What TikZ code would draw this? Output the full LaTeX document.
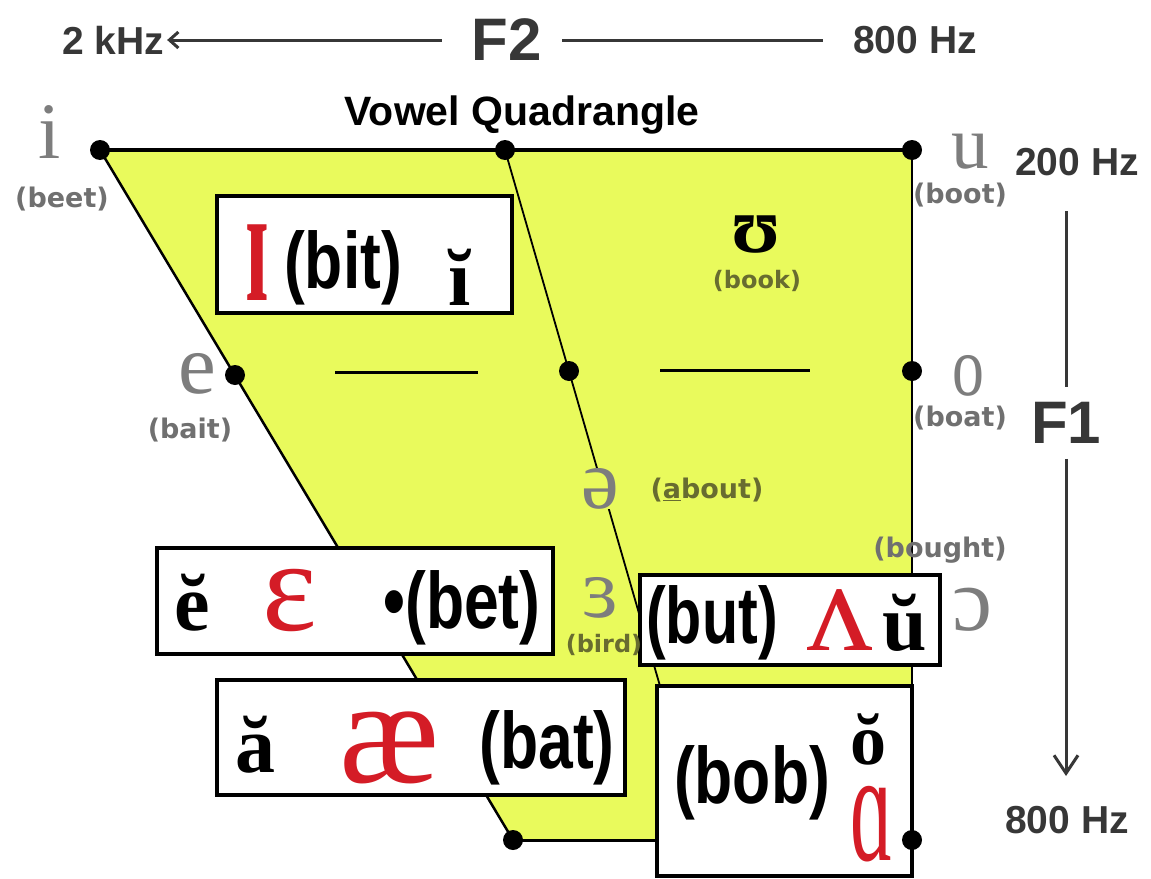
\documentclass[tikz,border=0pt]{standalone}
\usepackage{fontspec}
\setmainfont{Liberation Serif}
\newfontfamily\lsans{Liberation Sans}
\newfontfamily\dsans{DejaVu Sans}
\usetikzlibrary{arrows.meta}
\definecolor{quadyellow}{RGB}{233,250,92}
\definecolor{axisgrey}{RGB}{55,55,55}
\definecolor{lblgrey}{RGB}{112,112,112}
\definecolor{lblolive}{RGB}{104,108,48}
\definecolor{ipared}{RGB}{212,28,38}
\definecolor{ipagrey}{RGB}{125,125,125}
\newcommand\fsz[1]{\fontsize{#1}{#1}\selectfont}
\newcommand\cnd[1]{\scalebox{0.78}[1]{#1}}
\begin{document}
\begin{tikzpicture}[x=1pt,y=-1pt,
  dotn/.style={circle,fill=black,inner sep=0pt,minimum size=20pt},
  wbox/.style={draw=black,fill=white,line width=3.5pt,inner sep=0pt},
  axlbl/.style={font=\lsans\bfseries\fsz{39},text=axisgrey,inner sep=0pt},
  bigf/.style={font=\lsans\bfseries\fsz{60},text=axisgrey,inner sep=0pt},
  glbl/.style={font=\dsans\bfseries\fsz{27},text=lblgrey,inner sep=0pt},
  olbl/.style={glbl,text=lblolive},
  ipag/.style={font=\fsz{80},text=ipagrey,inner sep=0pt,anchor=base},
  bsans/.style={font=\lsans\bfseries\fsz{80},inner sep=0pt,anchor=base},
  brv/.style={font=\bfseries\fsz{80},inner sep=0pt,anchor=base},
  redipa/.style={font=\fsz{130},text=ipared,inner sep=0pt,anchor=base},
  axline/.style={draw=axisgrey,line width=3pt}
]
\fill[white] (0,0) rectangle (1151,878);
\useasboundingbox (0,0) rectangle (1151,878);

% quadrangle corner / point coordinates
\coordinate (ci) at (100,150);
\coordinate (cm) at (505,150);
\coordinate (cu) at (912,150);
\coordinate (ce) at (235,375);
\coordinate (cmid) at (569,371);
\coordinate (co) at (912,371);
\coordinate (cbl) at (513,840);
\coordinate (cbr) at (912,840);
\coordinate (cmb) at (660,686);

\fill[quadyellow] (ci) -- (cu) -- (cbr) -- (cbl) -- cycle;
\draw[line width=4pt] (ci) -- (cu);
\draw[line width=2.5pt] (cu) -- (cbr);
\draw[line width=2.5pt] (ci) -- (cbl);
\draw[line width=3pt] (cbl) -- (cbr);
\draw[line width=1.8pt] (cm) -- (cmb);
\draw[line width=3pt] (335,372) -- (478,372);
\draw[line width=3pt] (660,370) -- (810,370);

% white boxes
\node[wbox,minimum width=295pt,minimum height=117pt] (bitbox) at (364.5,254.5) {};
\node[wbox,minimum width=396pt,minimum height=106pt] (betbox) at (355,601) {};
\node[wbox,minimum width=300pt,minimum height=90pt] (butbox) at (790,620) {};
\node[wbox,minimum width=408pt,minimum height=115pt] (batbox) at (421,737.5) {};
\node[wbox,minimum width=255pt,minimum height=190pt] (bobbox) at (784.5,781) {};

% bit box
\node[redipa,font=\bfseries\fsz{165}] (ipaI) at (257,300) {\scalebox{0.5}[1]{ɪ}};
\node[bsans] (tbit) at (343,288) {\cnd{(bit)}};
\node[brv] (ibreve) at (460,305) {ĭ};
% bet box
\node[brv] (ebreve) at (192,630) {ĕ};
\node[redipa] (ipaE) at (290,630) {ɛ};
\node[bsans] (tbet) at (462,628) {\cnd{•(bet)}};
% but box
\node[bsans] (tbut) at (712,643) {\scalebox{0.74}[1]{(but)}};
\node[redipa] (ipaV) at (840,650) {ʌ};
\node[brv] (ubreve) at (905,650) {ŭ};
% bat box
\node[brv] (abreve) at (255,772) {ă};
\node[redipa,font=\fsz{150}] (ipaAE) at (390,782) {æ};
\node[bsans] (tbat) at (547,768) {\cnd{(bat)}};
% bob box
\node[bsans] (tbob) at (752,803) {\cnd{(bob)}};
\node[brv,font=\bfseries\fsz{72}] (obreve) at (868,764) {ŏ};
\node[redipa,font=\fsz{150}] (ipaA) at (872,860) {\scalebox{0.55}[1.05]{ɑ}};

% grey vowel labels
\node[ipag] (li) at (50,158) {i};
\node[glbl] (lbeet) at (62,199) {(beet)};
\node[ipag,font=\fsz{75}] (lu) at (970,168) {u};
\node[glbl] (lboot) at (960,195) {(boot)};
\node[ipag,font=\fsz{85}] (le) at (197,393) {e};
\node[glbl] (lbait) at (190,430) {(bait)};
\node[ipag,font=\fsz{85}] (lo) at (968,395) {\scalebox{0.75}[1]{o}};
\node[glbl] (lboat) at (960,418) {(boat)};
\node[ipag,font=\bfseries\fsz{80},text=black] (lbookv) at (756,252) {ʊ};
\node[olbl,font=\dsans\bfseries\fsz{24}] (lbook) at (757,281) {(book)};
\node[ipag,font=\fsz{85},fill=quadyellow] (lschwa) at (600,508) {ə};
\node[olbl] (labout) at (707,490) {(\underline{a}bout)};
\node[glbl] (lbought) at (940,550) {(bought)};
\node[ipag,font=\fsz{85}] (lbird) at (600,617) {ɜ};
\node[olbl,font=\dsans\bfseries\fsz{24}] (lbirdw) at (604,645) {(bird)};
\node[ipag,font=\fsz{90}] (lopen) at (972,630) {ɔ};

% dots
\node[dotn] (di) at (ci) {};
\node[dotn] (dm) at (cm) {};
\node[dotn] (du) at (cu) {};
\node[dotn] (de) at (ce) {};
\node[dotn] (dmid) at (cmid) {};
\node[dotn] (do) at (co) {};
\node[dotn] (dbl) at (cbl) {};
\node[dotn] (dbr) at (cbr) {};

% axes
\node[axlbl] (k2) at (113,40) {2 kHz};
\node[bigf] (f2) at (507,40) {F2};
\node[axlbl] (hztop) at (915,40) {800 Hz};
\node[font=\lsans\bfseries\fsz{41},inner sep=0pt] (title) at (522,115) {Vowel Quadrangle};
\node[axlbl] (hz200) at (1077,162) {200 Hz};
\node[bigf] (f1) at (1066,423) {F1};
\node[axlbl] (hzbot) at (1067,820) {800 Hz};

\draw[axline,-{Straight Barb[length=9pt,width=16pt]},shorten <=30pt,shorten >=3pt] (f2.west) -- (k2.east);
\draw[axline,shorten <=20pt,shorten >=30pt] (f2.east) -- (hztop.west);
\draw[axline,shorten <=35pt,shorten >=15pt] (f1.north |- hz200.south) -- (f1.north);
\draw[axline,-{Straight Barb[length=18pt,width=24pt]},shorten <=15pt,shorten >=30pt] (f1.south) -- (f1.south |- hzbot.north);
\end{tikzpicture}
\end{document}
